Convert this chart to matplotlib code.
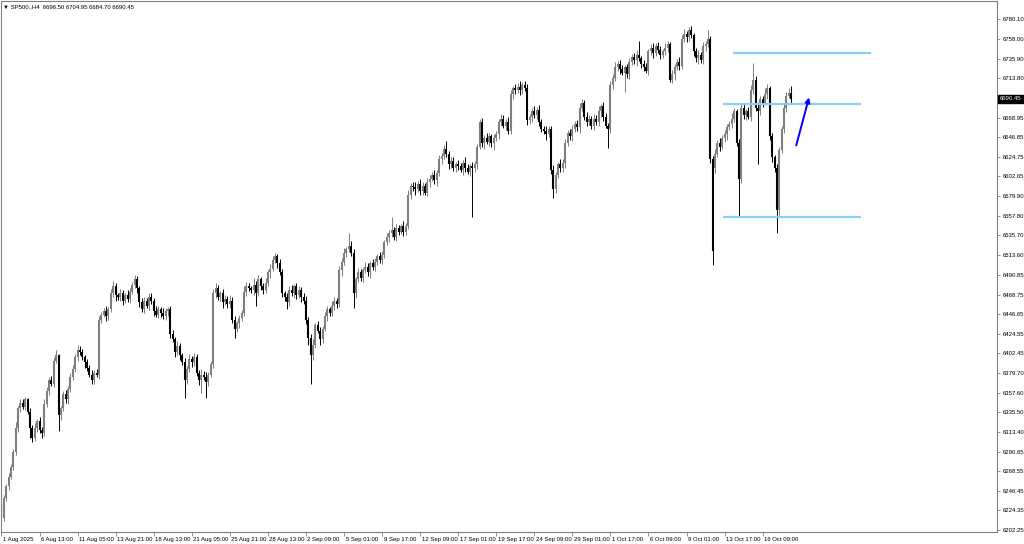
"""
SP500 H4 candlestick chart in the MetaTrader style, with three level lines and a trend arrow.
"""
import matplotlib.pyplot as plt
import matplotlib.transforms as mtransforms
import numpy as np

plt.rcParams["font.family"] = ["Liberation Sans", "DejaVu Sans"]

UP_COLOR = "#7f7f7f"
DOWN_COLOR = "#000000"
LEVEL_COLOR = "#87cefa"
ARROW_COLOR = "#0000ff"
FRAME_COLOR = "#808080"

title = "\u25bc SP500.,H4  6696.50 6704.95 6684.70 6690.45"
last_price = 6690.45

first_open = 6232
gap_opens = {300: 6612}

closes = [
    6216, 6238, 6252, 6262, 6274, 6290, 6318, 6340, 6346, 6342,
    6350, 6336, 6318, 6306, 6318, 6326, 6316, 6312, 6345, 6360,
    6372, 6368, 6394, 6400, 6332, 6340, 6356, 6350, 6362, 6376,
    6384, 6398, 6406, 6404, 6398, 6392, 6386, 6378, 6372, 6380,
    6378, 6440, 6446, 6450, 6444, 6452, 6470, 6478, 6468, 6466,
    6470, 6462, 6468, 6464, 6472, 6480, 6486, 6476, 6460, 6452,
    6462, 6456, 6466, 6462, 6450, 6446, 6452, 6448, 6444, 6450,
    6452, 6424, 6418, 6404, 6410, 6400, 6392, 6372, 6384, 6396,
    6392, 6398, 6380, 6372, 6378, 6376, 6370, 6378, 6390, 6470,
    6476, 6466, 6470, 6460, 6464, 6458, 6462, 6440, 6430, 6436,
    6442, 6448, 6472, 6478, 6476, 6474, 6480, 6470, 6486, 6478,
    6474, 6482, 6494, 6498, 6508, 6512, 6504, 6494, 6470, 6466,
    6460, 6474, 6470, 6478, 6468, 6474, 6466, 6462, 6440, 6420,
    6400, 6412, 6434, 6428, 6418, 6430, 6444, 6452, 6448, 6456,
    6462, 6458, 6496, 6506, 6516, 6520, 6524, 6516, 6470, 6486,
    6494, 6488, 6496, 6500, 6494, 6504, 6500, 6506, 6512, 6508,
    6514, 6528, 6534, 6538, 6542, 6534, 6544, 6540, 6546, 6540,
    6546, 6582, 6592, 6590, 6588, 6594, 6586, 6592, 6584, 6596,
    6600, 6604, 6598, 6606, 6622, 6626, 6634, 6628, 6616, 6620,
    6612, 6616, 6614, 6610, 6618, 6612, 6608, 6614, 6612, 6616,
    6636, 6664, 6640, 6646, 6642, 6648, 6640, 6646, 6650, 6664,
    6668, 6660, 6664, 6654, 6696, 6702, 6700, 6704, 6700, 6706,
    6702, 6666, 6670, 6676, 6672, 6678, 6664, 6656, 6654, 6650,
    6656, 6610, 6588, 6604, 6616, 6612, 6618, 6640, 6652, 6648,
    6656, 6662, 6658, 6680, 6686, 6670, 6664, 6668, 6660, 6668,
    6664, 6676, 6682, 6670, 6660, 6656, 6706, 6714, 6726, 6730,
    6724, 6720, 6726, 6718, 6732, 6738, 6734, 6740, 6736, 6730,
    6726, 6722, 6744, 6748, 6742, 6750, 6746, 6740, 6744, 6748,
    6752, 6712, 6718, 6726, 6732, 6728, 6758, 6764, 6760, 6768,
    6762, 6744, 6736, 6740, 6734, 6750, 6752, 6758, 6622, 6518,
    6628, 6640, 6636, 6646, 6650, 6658, 6662, 6668, 6676, 6640,
    6600, 6680, 6672, 6676, 6670, 6700, 6712, 6680, 6676, 6690,
    6686, 6696, 6702, 6648, 6624, 6612, 6564, 6632, 6656, 6680,
    6694, 6696.5, 6690.45,
]

upper_wicks = [
    3, 4, 2, 5, 3, 4, 6, 3, 5, 4,
    3, 2, 4, 3, 5, 2, 4, 3, 5, 4,
    3, 5, 4, 6, 2, 3, 4, 5, 3, 4,
    5, 3, 6, 4, 3, 2, 4, 3, 5, 3,
    4, 5, 3, 4, 6, 3, 5, 6, 4, 3,
    5, 4, 3, 6, 4, 3, 5, 4, 3, 5,
    4, 3, 5, 4, 3, 6, 4, 3, 5, 4,
    3, 4, 5, 3, 6, 4, 3, 5, 4, 6,
    3, 5, 4, 3, 6, 4, 5, 3, 4, 5,
    6, 4, 3, 5, 4, 3, 6, 4, 5, 3,
    4, 3, 6, 5, 4, 3, 7, 4, 5, 3,
    4, 6, 3, 5, 4, 4, 3, 5, 4, 3,
    5, 4, 6, 3, 4, 5, 3, 4, 5, 3,
    4, 6, 3, 5, 4, 3, 5, 4, 3, 6,
    4, 3, 5, 4, 6, 3, 14, 5, 4, 3,
    5, 4, 3, 6, 4, 3, 5, 4, 3, 5,
    4, 3, 5, 4, 14, 3, 5, 4, 3, 6,
    4, 5, 3, 4, 6, 3, 5, 4, 3, 5,
    4, 3, 6, 4, 5, 3, 4, 9, 3, 5,
    4, 3, 5, 4, 3, 6, 4, 3, 5, 4,
    3, 4, 5, 3, 6, 4, 3, 5, 4, 3,
    5, 4, 3, 6, 4, 3, 5, 4, 6, 3,
    4, 5, 3, 4, 6, 3, 5, 4, 3, 5,
    4, 3, 5, 4, 3, 6, 4, 5, 3, 4,
    5, 3, 4, 6, 4, 3, 5, 4, 3, 5,
    4, 6, 3, 5, 4, 3, 5, 4, 6, 3,
    4, 5, 3, 4, 5, 3, 4, 6, 16, 3,
    4, 5, 3, 4, 6, 3, 5, 4, 3, 5,
    4, 3, 5, 4, 3, 6, 4, 5, 3, 4,
    5, 3, 4, 6, 3, 5, 4, 10, 3, 4,
    5, 4, 6, 3, 5, 4, 3, 6, 4, 3,
    5, 4, 6, 3, 5, 6, 19, 4, 5, 3,
    4, 6, 5, 3, 4, 3, 5, 4, 3, 5,
    4, 6, 8.45,
]

lower_wicks = [
    11, 4, 3, 5, 2, 4, 3, 5, 4, 3,
    4, 3, 12, 4, 3, 5, 4, 6, 3, 4,
    5, 3, 4, 3, 18, 5, 3, 4, 5, 3,
    4, 3, 5, 4, 3, 6, 4, 3, 5, 4,
    3, 5, 4, 3, 5, 4, 3, 4, 6, 3,
    4, 5, 3, 4, 5, 3, 4, 6, 5, 3,
    4, 3, 5, 4, 6, 3, 4, 5, 3, 4,
    5, 4, 3, 6, 4, 5, 3, 20, 4, 3,
    5, 4, 3, 6, 15, 4, 18, 5, 3, 4,
    5, 3, 4, 6, 3, 5, 4, 3, 10, 4,
    5, 3, 4, 5, 3, 4, 6, 14, 3, 4,
    5, 3, 4, 6, 3, 4, 5, 3, 4, 5,
    8, 4, 3, 5, 4, 3, 6, 4, 5, 8,
    32, 5, 4, 3, 6, 4, 3, 5, 4, 3,
    5, 4, 3, 6, 4, 5, 3, 4, 17, 5,
    3, 4, 5, 3, 4, 6, 3, 5, 4, 3,
    5, 4, 3, 6, 4, 3, 5, 4, 3, 5,
    4, 3, 5, 4, 6, 3, 4, 5, 3, 4,
    5, 3, 4, 6, 3, 5, 4, 3, 5, 4,
    3, 5, 4, 3, 6, 4, 3, 5, 56, 4,
    5, 3, 4, 6, 3, 5, 4, 8, 3, 5,
    4, 3, 5, 4, 3, 6, 4, 3, 5, 4,
    3, 5, 4, 6, 3, 4, 5, 3, 4, 6,
    3, 5, 10, 4, 3, 5, 4, 6, 3, 4,
    5, 3, 4, 6, 3, 4, 5, 3, 4, 5,
    3, 4, 6, 5, 3, 21, 4, 5, 3, 4,
    6, 3, 22, 4, 5, 3, 4, 6, 3, 5,
    4, 3, 5, 4, 6, 3, 4, 5, 3, 4,
    5, 3, 4, 6, 3, 5, 4, 3, 5, 4,
    3, 5, 4, 6, 3, 4, 5, 3, 4, 16,
    6, 4, 5, 3, 4, 6, 3, 5, 4, 3,
    42, 5, 4, 6, 3, 5, 4, 3, 59, 4,
    5, 3, 6, 4, 5, 4, 26, 5, 3, 4,
    5, 3, 5.75,
]

x_tick_labels = [
    "1 Aug 2025", "6 Aug 13:00", "11 Aug 05:00", "13 Aug 21:00", "18 Aug 13:00",
    "21 Aug 05:00", "25 Aug 21:00", "28 Aug 13:00", "2 Sep 09:00", "5 Sep 01:00",
    "9 Sep 17:00", "12 Sep 09:00", "17 Sep 01:00", "19 Sep 17:00", "24 Sep 09:00",
    "29 Sep 01:00", "1 Oct 17:00", "6 Oct 09:00", "9 Oct 01:00", "13 Oct 17:00",
    "16 Oct 09:00",
]
bars_per_label = 16

y_tick_values = [
    6780.10, 6758.00, 6735.90, 6713.80, 6668.95, 6646.85, 6624.75, 6602.65,
    6579.90, 6557.80, 6535.70, 6513.60, 6490.85, 6468.75, 6446.65, 6424.55,
    6402.45, 6379.70, 6357.60, 6335.50, 6313.40, 6290.65, 6268.55, 6246.45,
    6224.35, 6202.25,
]

# level lines: price, first bar, last bar
level_prices = [6742.0, 6684.0, 6556.6]
level_starts = [307.6, 303.4, 303.4]
level_ends = [365.6, 361.4, 361.4]

arrow_start = (334.1, 6637.6)
arrow_end = (339.5, 6691.9)


def build_ohlc():
    c = np.array(closes, dtype=float)
    o = np.concatenate([[first_open], c[:-1]])
    for i, v in gap_opens.items():
        o[i] = v
    hi = np.maximum(o, c) + np.array(upper_wicks, dtype=float)
    lo = np.minimum(o, c) - np.array(lower_wicks, dtype=float)
    return o, hi, lo, c


def draw_candles(ax, o, hi, lo, c):
    idx = np.arange(len(c))
    colors = np.where(c >= o, UP_COLOR, DOWN_COLOR)
    ax.vlines(idx, lo, hi, colors=colors, lw=0.7)
    body_lo = np.minimum(o, c)
    body_hi = np.maximum(np.maximum(o, c), body_lo + 1.0)
    ax.vlines(idx, body_lo, body_hi, colors=colors, lw=1.5)


def main():
    fig = plt.figure(figsize=(10.24, 5.44), dpi=100)
    ax = fig.add_axes([0.5 / 1024, 12 / 544, 996.5 / 1024, 531.5 / 544])

    o, hi, lo, c = build_ohlc()
    draw_candles(ax, o, hi, lo, c)

    for price, x0, x1 in zip(level_prices, level_starts, level_ends):
        ax.hlines(price, x0, x1, colors=LEVEL_COLOR, lw=1.6)

    ax.annotate(
        "", xy=arrow_end, xytext=arrow_start,
        arrowprops=dict(arrowstyle="-|>", color=ARROW_COLOR, lw=1.4,
                        mutation_scale=7, shrinkA=0, shrinkB=0),
    )

    ax.set_xlim(-0.4, 418.5)
    ax.set_ylim(6200.0, 6801.6)

    # right-hand price scale
    ax.yaxis.tick_right()
    ax.set_yticks(y_tick_values)
    ax.set_yticklabels([f"{v:.2f}" for v in y_tick_values])
    ax.tick_params(axis="y", direction="out", length=2.5, width=0.6,
                   color=FRAME_COLOR, labelsize=4.3, pad=1.5)

    # time scale, labels start just right of their tick
    x_pos = np.arange(len(x_tick_labels)) * bars_per_label
    ax.set_xticks(x_pos)
    ax.set_xticklabels(x_tick_labels)
    ax.tick_params(axis="x", direction="out", length=3, width=0.6,
                   color=FRAME_COLOR, labelsize=4.3, pad=0.5)
    offset = mtransforms.ScaledTranslation(1.5 / 100, 0, fig.dpi_scale_trans)
    for lab in ax.get_xticklabels():
        lab.set_ha("left")
        lab.set_transform(lab.get_transform() + offset)

    for spine in ax.spines.values():
        spine.set_color(FRAME_COLOR)
        spine.set_linewidth(0.8)

    # current price tag on the scale
    tag_tf = mtransforms.blended_transform_factory(ax.transAxes, ax.transData)
    ax.text(1.003, last_price, f"{last_price:.2f}", transform=tag_tf,
            fontsize=4.3, color="white", ha="left", va="center",
            bbox=dict(boxstyle="square,pad=0.25", fc="black", ec="black"))

    fig.text(3 / 1024, 1 - 7 / 544, title, fontsize=4.3, ha="left", va="center")

    fig.savefig("out.png", dpi=100)
    plt.close(fig)


if __name__ == "__main__":
    main()
